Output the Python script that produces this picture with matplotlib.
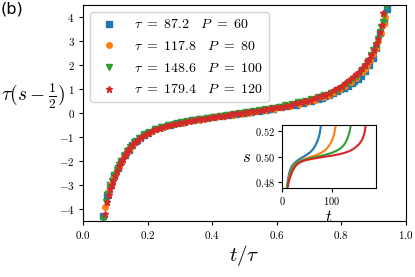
import matplotlib
matplotlib.use("Agg")
import matplotlib.pyplot as plt
from matplotlib.ticker import FormatStrFormatter, MultipleLocator
import numpy as np

plt.rcParams['mathtext.fontset'] = 'cm'

# relaxation times and P values of the four runs
taus = [87.2, 117.8, 148.6, 179.4]
Ps = [60, 80, 100, 120]
markers = ['s', 'o', 'v', '*']
colors = ['C0', 'C1', 'C2', 'C3']

# rescaled data: x = t/tau, y = tau*(s - 1/2)
x_p60 = [0.061, 0.073, 0.084, 0.096, 0.107, 0.119, 0.130, 0.142, 0.153, 0.165,
         0.176, 0.188, 0.200, 0.222, 0.245, 0.268, 0.291, 0.314, 0.337, 0.360,
         0.383, 0.406, 0.429, 0.452, 0.475, 0.498, 0.521, 0.544, 0.567, 0.590,
         0.613, 0.636, 0.659, 0.682, 0.705, 0.728, 0.740, 0.751, 0.763, 0.774,
         0.786, 0.797, 0.809, 0.820, 0.832, 0.840, 0.851, 0.8625, 0.874, 0.8855,
         0.897, 0.9085, 0.920, 0.9315, 0.943]
y_p60 = [-4.28, -3.40, -2.98, -2.60, -2.28, -1.98, -1.74, -1.52, -1.33, -1.16,
         -1.03, -0.92, -0.82, -0.68, -0.58, -0.50, -0.43, -0.37, -0.31, -0.26,
         -0.21, -0.17, -0.12, -0.08, -0.04, 0.00, 0.04, 0.08, 0.13, 0.18,
         0.23, 0.28, 0.34, 0.41, 0.49, 0.58, 0.63, 0.69, 0.75, 0.82,
         0.90, 0.98, 1.05, 1.14, 1.24, 1.32, 1.42, 1.56, 1.76, 2.00,
         2.30, 2.70, 3.32, 3.80, 4.33]

x_p80 = [0.068, 0.077, 0.085, 0.094, 0.102, 0.111, 0.119, 0.128, 0.136, 0.145,
         0.158, 0.175, 0.192, 0.209, 0.226, 0.243, 0.260, 0.285, 0.311, 0.336,
         0.362, 0.387, 0.413, 0.438, 0.464, 0.489, 0.515, 0.540, 0.566, 0.591,
         0.617, 0.642, 0.668, 0.693, 0.719, 0.744, 0.762, 0.778, 0.795, 0.812,
         0.829, 0.846, 0.863, 0.872, 0.880, 0.889, 0.897, 0.906, 0.914, 0.923,
         0.931, 0.935]
y_p80 = [-3.90, -3.28, -3.00, -2.74, -2.50, -2.24, -2.02, -1.80, -1.62, -1.45,
         -1.25, -1.04, -0.89, -0.78, -0.68, -0.61, -0.55, -0.47, -0.40, -0.34,
         -0.28, -0.22, -0.17, -0.12, -0.07, -0.03, 0.02, 0.07, 0.12, 0.17,
         0.23, 0.29, 0.37, 0.45, 0.55, 0.66, 0.76, 0.87, 0.99, 1.13,
         1.28, 1.46, 1.70, 1.85, 2.02, 2.22, 2.44, 2.70, 3.00, 3.35,
         3.70, 3.99]

x_p100 = [0.063, 0.070, 0.076, 0.083, 0.090, 0.097, 0.104, 0.111, 0.118, 0.126,
          0.135, 0.145, 0.158, 0.172, 0.188, 0.205, 0.222, 0.242, 0.262, 0.282,
          0.302, 0.323, 0.343, 0.363, 0.383, 0.403, 0.424, 0.444, 0.464, 0.484,
          0.505, 0.525, 0.545, 0.565, 0.585, 0.606, 0.626, 0.646, 0.666, 0.687,
          0.707, 0.727, 0.747, 0.767, 0.787, 0.804, 0.821, 0.835, 0.848, 0.861,
          0.872, 0.882, 0.891, 0.899, 0.906, 0.913, 0.919, 0.924, 0.928, 0.933,
          0.937]
y_p100 = [-4.42, -3.70, -3.38, -3.08, -2.82, -2.60, -2.38, -2.18, -1.98, -1.78,
          -1.58, -1.40, -1.20, -1.04, -0.89, -0.77, -0.67, -0.58, -0.51, -0.44,
          -0.38, -0.33, -0.28, -0.23, -0.19, -0.15, -0.11, -0.07, -0.03, 0.01,
          0.05, 0.09, 0.13, 0.17, 0.22, 0.27, 0.32, 0.38, 0.44, 0.51,
          0.58, 0.66, 0.75, 0.85, 0.97, 1.10, 1.25, 1.40, 1.56, 1.76,
          1.96, 2.18, 2.40, 2.62, 2.84, 3.10, 3.36, 3.58, 3.80, 4.10,
          4.47]

x_p120 = [0.068, 0.073, 0.079, 0.084, 0.089, 0.094, 0.100, 0.106, 0.112, 0.118,
          0.124, 0.130, 0.137, 0.144, 0.152, 0.161, 0.170, 0.180, 0.191, 0.202,
          0.214, 0.227, 0.240, 0.254, 0.268, 0.283, 0.298, 0.313, 0.328, 0.343,
          0.358, 0.373, 0.388, 0.403, 0.418, 0.433, 0.448, 0.463, 0.478, 0.493,
          0.508, 0.523, 0.538, 0.553, 0.568, 0.583, 0.598, 0.613, 0.628, 0.643,
          0.658, 0.673, 0.688, 0.703, 0.718, 0.733, 0.748, 0.762, 0.776, 0.789,
          0.801, 0.813, 0.825, 0.836, 0.846, 0.856, 0.865, 0.873, 0.880, 0.887,
          0.893, 0.900, 0.907, 0.913, 0.919, 0.925, 0.929, 0.934]
y_p120 = [-4.20, -3.70, -3.40, -3.18, -2.98, -2.85, -2.62, -2.42, -2.22, -2.05,
          -1.90, -1.76, -1.62, -1.48, -1.35, -1.22, -1.11, -1.00, -0.91, -0.83,
          -0.75, -0.68, -0.62, -0.56, -0.51, -0.47, -0.42, -0.38, -0.34, -0.31,
          -0.27, -0.24, -0.20, -0.17, -0.14, -0.11, -0.08, -0.05, -0.02, 0.01,
          0.04, 0.07, 0.10, 0.13, 0.16, 0.20, 0.23, 0.27, 0.31, 0.35,
          0.40, 0.45, 0.50, 0.56, 0.62, 0.69, 0.77, 0.85, 0.94, 1.04,
          1.14, 1.25, 1.37, 1.50, 1.62, 1.72, 1.86, 2.00, 2.15, 2.26,
          2.40, 2.62, 2.86, 3.10, 3.38, 3.68, 4.16, 4.62]

xs = [x_p60, x_p80, x_p100, x_p120]
ys = [y_p60, y_p80, y_p100, y_p120]

fig = plt.figure(figsize=(4.15, 2.77), dpi=100)
ax = fig.add_axes([0.2, 0.202, 0.778, 0.78])

for x, y, tau, P, m, c in zip(xs, ys, taus, Ps, markers, colors):
    ms = 5 if m == '*' else 4
    ax.plot(x, y, m, color=c, ms=ms, linestyle='none',
            label=r'$\tau\ =\ %.1f \quad P\ =\ %d$' % (tau, P))

ax.set_xlim(0, 1)
ax.set_ylim(-4.5, 4.5)
ax.xaxis.set_major_locator(MultipleLocator(0.2))
ax.yaxis.set_major_locator(MultipleLocator(1))
ax.xaxis.set_major_formatter(FormatStrFormatter(r'$%.1f$'))
ax.yaxis.set_major_formatter(FormatStrFormatter(r'$%d$'))
ax.tick_params(labelsize=8, length=3, pad=3)

ax.set_xlabel(r'$t/\tau$', fontsize=15)
ax.xaxis.set_label_coords(0.5, -0.1)
ax.set_ylabel(r'$\tau(s-\frac{1}{2})$', fontsize=14, rotation=0, ha='center', va='center')
ax.yaxis.set_label_coords(-0.155, 0.58)

ax.legend(loc='upper left', fontsize=10, numpoints=1, handlelength=2.0,
          labelspacing=0.55)

# inset: the raw s(t) curves
ins = fig.add_axes([0.6795, 0.321, 0.2265, 0.2274])
for x, y, tau, c in zip(xs, ys, taus, colors):
    t = np.array(x) * tau
    s = 0.5 + np.array(y) / tau
    ins.plot(t, s, '-', color=c, lw=1.5)
ins.set_xlim(0, 188)
ins.set_ylim(0.475, 0.525)
ins.set_xticks([0, 100])
ins.set_yticks([0.48, 0.50, 0.52])
ins.xaxis.set_major_formatter(FormatStrFormatter(r'$%d$'))
ins.yaxis.set_major_formatter(FormatStrFormatter(r'$%.2f$'))
ins.tick_params(labelsize=7.5, length=3, pad=2)
ins.set_xlabel(r'$t$', fontsize=12, labelpad=1)
ins.set_ylabel(r'$s$', fontsize=12, rotation=0, labelpad=6, va='center')

fig.text(0.002, 0.995, '(b)', fontsize=11.5, va='top', ha='left')

fig.savefig('out.png', dpi=100)
